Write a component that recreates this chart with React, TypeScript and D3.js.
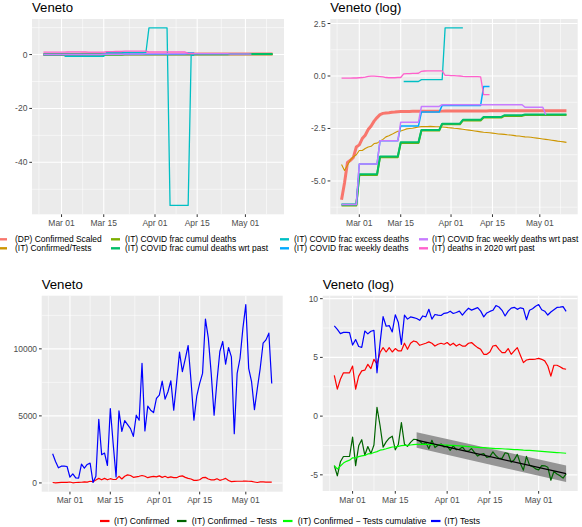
import React from "react";
import * as d3 from "d3";

// ---------------- data ----------------
const seriesStart = "2020-02-24";
const seriesEnd = "2020-05-10";

// top panels (values, log panel shows their natural log)
const dpConfirmedScaled = [
  0.00274, 0.0061, 0.0162, 0.018, 0.0207, 0.034, 0.0376, 0.0508, 0.0596, 0.078, 0.0926,
  0.1165, 0.138, 0.1588, 0.1686, 0.172, 0.1738, 0.1773, 0.1791, 0.1827, 0.1845,
  0.1848, 0.185, 0.1853, 0.1855, 0.1857, 0.186,
  0.1862, 0.1864, 0.1866, 0.1868, 0.187, 0.1872, 0.1874, 0.1876, 0.1878, 0.188,
  0.1881, 0.1882, 0.1884, 0.1885, 0.1887, 0.1888, 0.189, 0.1891, 0.1893, 0.1894,
  0.1895, 0.1896, 0.1898, 0.1899, 0.19, 0.1901, 0.1902, 0.1903, 0.1904, 0.1905,
  0.1906, 0.1907, 0.1908, 0.1909, 0.191, 0.1911, 0.1912, 0.1913, 0.1913, 0.1914,
  0.1915, 0.1915, 0.1916, 0.1917, 0.1917, 0.1918, 0.1918, 0.1919, 0.1919, 0.192,
];
const itConfirmedOverTests = [
  0.0147, 0.0111, 0.0143, 0.0183, 0.0213, 0.0235,
  0.0287, 0.0287, 0.0317, 0.034, 0.0351, 0.04, 0.0408, 0.045, 0.0488, 0.055,
  0.0578, 0.062, 0.0672, 0.0721, 0.0728, 0.0765, 0.0805, 0.0821, 0.0829, 0.0854,
  0.088, 0.0898, 0.0898, 0.0898, 0.0907, 0.0898, 0.0889, 0.0889, 0.088, 0.0872,
  0.0854, 0.0846, 0.0829, 0.0821, 0.0805, 0.0789, 0.0773, 0.0758, 0.0743, 0.0728,
  0.0714, 0.0699, 0.0686, 0.0679, 0.0672, 0.0659, 0.0646, 0.0633, 0.0627, 0.062,
  0.0608, 0.0602, 0.059, 0.0578, 0.0573, 0.0561, 0.055, 0.0545, 0.0539, 0.0529,
  0.0518, 0.0508, 0.0498, 0.0488, 0.0478, 0.0469, 0.046, 0.045, 0.0442, 0.0433, 0.0424,
];
const itFracCumulDeaths = [
  0.0021, 0.0021, 0.0021, 0.0021, 0.0021, 0.0021,
  0.009, 0.009, 0.009, 0.009, 0.009, 0.009, 0.009,
  0.0209, 0.0209, 0.0209, 0.0209, 0.0209, 0.0209, 0.0209,
  0.0411, 0.0411, 0.0411, 0.0411, 0.0411, 0.0411, 0.0411,
  0.0742, 0.0742, 0.0742, 0.0742, 0.0742, 0.0742, 0.0742,
  0.1002, 0.1002, 0.1002, 0.1002, 0.1002, 0.1002, 0.1002,
  0.12, 0.12, 0.12, 0.12, 0.12, 0.12, 0.12,
  0.138, 0.138, 0.138, 0.138, 0.138, 0.138, 0.138,
  0.1495, 0.1495, 0.1495, 0.1495, 0.1495, 0.1495, 0.1495,
  0.1556, 0.1556, 0.1556, 0.1556, 0.1556, 0.1556, 0.1556, 0.1556,
  0.1556, 0.1556, 0.1556, 0.1556, 0.1556, 0.1556, 0.1556,
];
const itFracCumulDeathsWrtPast = [
  0.0022, 0.0022, 0.0022, 0.0022, 0.0022, 0.0022,
  0.0093, 0.0093, 0.0093, 0.0093, 0.0093, 0.0093, 0.0093,
  0.0215, 0.0215, 0.0215, 0.0215, 0.0215, 0.0215, 0.0215,
  0.0424, 0.0424, 0.0424, 0.0424, 0.0424, 0.0424, 0.0424,
  0.0765, 0.0765, 0.0765, 0.0765, 0.0765, 0.0765, 0.0765,
  0.1033, 0.1033, 0.1033, 0.1033, 0.1033, 0.1033, 0.1033,
  0.1237, 0.1237, 0.1237, 0.1237, 0.1237, 0.1237, 0.1237,
  0.1423, 0.1423, 0.1423, 0.1423, 0.1423, 0.1423, 0.1423,
  0.1541, 0.1541, 0.1541, 0.1541, 0.1541, 0.1541, 0.1541,
  0.1604, 0.1604, 0.1604, 0.1604, 0.1604, 0.1604, 0.1604, 0.1604,
  0.1604, 0.1604, 0.1604, 0.1604, 0.1604, 0.1604, 0.1604,
];
const excessStart = "2020-03-02";
const itFracExcessDeaths = [
  -0.65, -0.65, -0.65, -0.65, -0.65, -0.65, -0.65, -0.65, -0.65, -0.65, -0.65, -0.65, -0.65, -0.65,
  0.77, 0.77, 0.77, 0.77, 0.77, 0.77,
  0.84, 0.84, 0.84, 0.84, 0.84, 0.84, 0.84, 0.84,
  9.9, 9.9, 9.9, 9.9, 9.9, 9.9, 9.9,
  -56, -56, -56, -56, -56, -56, -56,
  -0.3, -0.3,
];
const itFracWeeklyDeaths = [
  0.0022, 0.0022, 0.0022, 0.0022, 0.0022, 0.0022,
  0.0151, 0.0151, 0.0151, 0.0151, 0.0151, 0.0151, 0.0151,
  0.0455, 0.0455, 0.0455, 0.0455, 0.0455, 0.0455, 0.0455,
  0.0926, 0.0926, 0.0926, 0.0926, 0.0926, 0.0926, 0.0926,
  0.179, 0.179, 0.179, 0.179, 0.179, 0.179, 0.179,
  0.2466, 0.2466, 0.2466, 0.2466, 0.2466, 0.2466, 0.2466,
  0.2466, 0.2466, 0.2466, 0.2466, 0.2466, 0.2466, 0.2466,
  0.6065, 0.6065, 0.6065,
];
const itFracWeeklyDeathsWrtPast = [
  0.0022, 0.0022, 0.0022, 0.0022, 0.0022, 0.0022,
  0.0151, 0.0151, 0.0151, 0.0151, 0.0151, 0.0151, 0.0151,
  0.0455, 0.0455, 0.0455, 0.0455, 0.0455, 0.0455, 0.0455,
  0.111, 0.111, 0.111, 0.111, 0.111, 0.111, 0.111,
  0.2346, 0.2346, 0.2346, 0.2346, 0.2346, 0.2346, 0.2346,
  0.2541, 0.2541, 0.2541, 0.2541, 0.2541, 0.2541, 0.2541,
  0.2541, 0.2541, 0.2541, 0.2541, 0.2541, 0.2541, 0.2541,
  0.2541, 0.2541, 0.2541, 0.2541, 0.2541, 0.2541, 0.2541,
  0.2541, 0.2541, 0.2541, 0.2541, 0.2541, 0.2541, 0.2541,
  0.2254, 0.2254, 0.2254, 0.2254, 0.2254, 0.2254, 0.2254,
  0.1572,
];
const itDeaths2020WrtPast = [
  0.9, 0.9, 0.9, 0.9, 0.91, 0.91,
  0.92, 0.93, 0.95,
  0.98, 0.99, 0.99, 0.98, 0.97, 0.96,
  0.93, 0.92, 0.92, 0.92, 0.93, 0.93,
  1.11, 1.12, 1.12, 1.13, 1.13, 1.14,
  1.25, 1.27, 1.28, 1.28, 1.28, 1.28, 1.28, 1.28,
  1.03, 1.03, 1.02, 1.02, 1.01, 1.0,
  0.98, 0.97, 0.97, 0.97, 0.97, 0.97, 0.96,
  0.41, 0.41, 0.41,
];

const topLabels = [
  "(DP) Confirmed Scaled",
  "(IT) Confirmed/Tests",
  "(IT) COVID frac cumul deaths",
  "(IT) COVID frac cumul deaths wrt past",
  "(IT) COVID frac excess deaths",
  "(IT) COVID frac weekly deaths",
  "(IT) COVID frac weekly deaths wrt past",
  "(IT) deaths in 2020 wrt past",
];
const topColors = ["#F8766D", "#CD9600", "#7CAE00", "#00BE67", "#00BFC4", "#00A9FF", "#C77CFF", "#FF61CC"];

// bottom panels
const itConfirmed = [
  32, 10, 23, 40, 40, 40,
  71, 10, 30, 47, 50, 82, 57, 126, 85, 224,
  340, 235, 340, 235, 315, 257, 260, 495, 295, 495,
  600, 555, 415, 455, 495, 555, 495, 390, 455, 495,
  455, 525, 415, 495, 390, 455, 390, 390, 495, 525,
  415, 340, 295, 193, 193, 235, 390, 415, 295, 224,
  224, 315, 193, 257, 340, 178, 95, 119, 126, 126,
  129, 137, 126, 110, 71, 30, 76, 76, 67, 57, 54,
];
const itTests = [
  2175, 1600, 1125, 1250, 1250, 1225,
  425, 675, 375, 350, 1400, 1100, 1375, 1475, 40, 500,
  4750, 2100, 2225, 1300, 5550, 2900, 450, 5375, 3850, 4650,
  4350, 4050, 3475, 5050, 4675, 8925, 3875, 5725, 5425, 5250,
  6300, 6550, 7600, 6250, 6800, 7620, 5420, 7500, 9750, 8300,
  9250, 10250, 7600, 4680, 6500, 7420, 8170, 12220, 10800, 8170,
  5050, 7600, 9800, 10550, 8850, 10100, 9400, 3670, 8170, 9300,
  11550, 13300, 8550, 7550, 5470, 7050, 8550, 10420, 10670, 11170, 7420,
];
const itConfirmedMinusTests = [
  -4.21, -5.08, -3.89, -3.44, -3.44, -3.42,
  -1.79, -4.21, -2.53, -2.01, -3.33, -2.59, -3.19, -2.46, 0.75, -0.8,
  -2.64, -2.19, -1.88, -1.71, -2.87, -2.42, -0.55, -2.39, -2.57, -2.24,
  -1.98, -1.99, -2.12, -2.41, -2.25, -2.78, -2.06, -2.68, -2.48, -2.37,
  -2.63, -2.53, -2.91, -2.54, -2.85, -2.82, -2.63, -2.95, -2.98, -2.76,
  -3.1, -3.4, -3.25, -3.19, -3.52, -3.45, -3.04, -3.38, -3.6, -3.6,
  -3.12, -3.19, -3.93, -3.71, -3.26, -4.04, -4.6, -3.43, -4.17, -4.3,
  -4.49, -4.58, -4.21, -4.23, -4.35, -5.46, -4.72, -4.92, -5.08, -5.28, -4.92,
];
const fitDates = ["2020-03-22", "2020-05-10"];
const fitValues = [-2.05, -4.9];
const fitUpper = [-1.37, -4.2];
const fitLower = [-2.7, -5.62];

const bottomLabels = ["(IT) Confirmed", "(IT) Confirmed − Tests", "(IT) Confirmed − Tests cumulative", "(IT) Tests"];
const bottomColors = ["#FF0000", "#006400", "#00FF00", "#0000FF"];

const xTickDates = ["2020-03-01", "2020-03-15", "2020-04-01", "2020-04-15", "2020-05-01"];
const xTickLabels = ["Mar 01", "Mar 15", "Apr 01", "Apr 15", "May 01"];
const xBreakOuter = ["2020-02-15", "2020-05-15"];

const tlYTicks = [0, -20, -40];
const tlYLabels = ["0", "-20", "-40"];
const trYTicks = [2.5, 0, -2.5, -5];
const trYLabels = ["2.5", "0.0", "-2.5", "-5.0"];
const blYTicks = [0, 5000, 10000];
const blYLabels = ["0", "5000", "10000"];
const brYTicks = [-5, 0, 5, 10];
const brYLabels = ["-5", "0", "5", "10"];

// ---------------- helpers ----------------
const FONT = "'Liberation Sans', Arial, Helvetica, sans-serif";
const DAY = 86400000;
const parse = (s: string) => {
  const [y, m, d] = s.split("-").map(Number);
  return new Date(Date.UTC(y, m - 1, d));
};
type Pt = { date: Date; value: number };
const toPts = (start: string, vals: number[], f: (v: number) => number = (v) => v): Pt[] => {
  const s = parse(start).getTime();
  return vals.map((v, i) => ({ date: new Date(s + i * DAY), value: f(v) }));
};
const expand = (vals: number[]): [number, number] => {
  const fin = vals.filter((v) => Number.isFinite(v));
  const mn = d3.min(fin) as number;
  const mx = d3.max(fin) as number;
  const p = (mx - mn) * 0.05;
  return [mn - p, mx + p];
};
const xStart = parse(seriesStart);
const xEnd = parse(seriesEnd);
const xPad = (xEnd.getTime() - xStart.getTime()) * 0.05;
const xDomain: [Date, Date] = [new Date(xStart.getTime() - xPad), new Date(xEnd.getTime() + xPad)];
const majorBreaks = [xBreakOuter[0], ...xTickDates, xBreakOuter[1]].map(parse);
const minorBreaks = majorBreaks.slice(1).map((d, i) => new Date((d.getTime() + majorBreaks[i].getTime()) / 2));

type Line = { pts: Pt[]; color: string; width: number };
type Box = { l: number; r: number; t: number; b: number };

function Panel(props: {
  id: string;
  box: Box;
  yDomain: [number, number];
  yTicks: number[];
  yLabels: string[];
  title: string;
  titleY: number;
  lines: Line[];
  ribbon?: { date: Date; lo: number; hi: number }[];
}) {
  const { id, box, yDomain, yTicks, yLabels, title, titleY, lines, ribbon } = props;
  const x = d3.scaleUtc().domain(xDomain).range([box.l, box.r]);
  const y = d3.scaleLinear().domain(yDomain).range([box.b, box.t]);
  const step = yTicks.length > 1 ? Math.abs(yTicks[1] - yTicks[0]) : 1;
  const sorted = [...yTicks].sort((a, b) => a - b);
  const yMinor: number[] = [];
  for (let v = sorted[0] - step / 2; v <= yDomain[1]; v += step) {
    if (v >= yDomain[0]) yMinor.push(v);
  }
  for (let v = sorted[0] - step / 2; v >= yDomain[0]; v -= step) {
    if (!yMinor.includes(v)) yMinor.push(v);
  }
  const line = d3
    .line<Pt>()
    .defined((d) => Number.isFinite(d.value))
    .x((d) => x(d.date))
    .y((d) => y(d.value));
  const area = d3
    .area<{ date: Date; lo: number; hi: number }>()
    .x((d) => x(d.date))
    .y0((d) => y(d.lo))
    .y1((d) => y(d.hi));
  const tickDates = xTickDates.map(parse);
  return (
    <g>
      <text x={box.l} y={titleY} fontSize={13.2} fill="#000" fontFamily={FONT}>
        {title}
      </text>
      <rect x={box.l} y={box.t} width={box.r - box.l} height={box.b - box.t} fill="#EBEBEB" />
      <clipPath id={id}>
        <rect x={box.l} y={box.t} width={box.r - box.l} height={box.b - box.t} />
      </clipPath>
      <g clipPath={`url(#${id})`}>
        {yMinor.map((v, i) => (
          <line key={"ym" + i} x1={box.l} x2={box.r} y1={y(v)} y2={y(v)} stroke="#fff" strokeWidth={0.55} />
        ))}
        {minorBreaks.map((d, i) => (
          <line key={"xm" + i} x1={x(d)} x2={x(d)} y1={box.t} y2={box.b} stroke="#fff" strokeWidth={0.55} />
        ))}
        {yTicks.map((v, i) => (
          <line key={"yM" + i} x1={box.l} x2={box.r} y1={y(v)} y2={y(v)} stroke="#fff" strokeWidth={1.1} />
        ))}
        {tickDates.map((d, i) => (
          <line key={"xM" + i} x1={x(d)} x2={x(d)} y1={box.t} y2={box.b} stroke="#fff" strokeWidth={1.1} />
        ))}
        {ribbon && <path d={area(ribbon) || ""} fill="#959595" />}
        {lines.map((ln, i) => (
          <path key={"l" + i} d={line(ln.pts) || ""} fill="none" stroke={ln.color} strokeWidth={ln.width} strokeLinejoin="round" />
        ))}
      </g>
      {yTicks.map((v, i) => (
        <g key={"yt" + i}>
          <line x1={box.l - 2.7} x2={box.l} y1={y(v)} y2={y(v)} stroke="#333" strokeWidth={1} />
          <text x={box.l - 4.6} y={y(v) + 3} textAnchor="end" fontSize={8.5} fill="#4D4D4D" fontFamily={FONT}>
            {yLabels[i]}
          </text>
        </g>
      ))}
      {tickDates.map((d, i) => (
        <g key={"xt" + i}>
          <line x1={x(d)} x2={x(d)} y1={box.b} y2={box.b + 2.7} stroke="#333" strokeWidth={1} />
          <text x={x(d)} y={box.b + 11.6} textAnchor="middle" fontSize={8.5} fill="#4D4D4D" fontFamily={FONT}>
            {xTickLabels[i]}
          </text>
        </g>
      ))}
    </g>
  );
}

export default function App() {
  const topVals = [
    dpConfirmedScaled,
    itConfirmedOverTests,
    itFracCumulDeaths,
    itFracCumulDeathsWrtPast,
    itFracExcessDeaths,
    itFracWeeklyDeaths,
    itFracWeeklyDeathsWrtPast,
    itDeaths2020WrtPast,
  ];
  const topStarts = [seriesStart, seriesStart, seriesStart, seriesStart, excessStart, seriesStart, seriesStart, seriesStart];
  const topWidths = [3, 1.1, 2, 2, 1.3, 1.5, 1.5, 1.3];

  const tlLines: Line[] = topVals.map((v, i) => ({ pts: toPts(topStarts[i], v), color: topColors[i], width: topWidths[i] }));
  const trLines: Line[] = topVals.map((v, i) => ({ pts: toPts(topStarts[i], v, Math.log), color: topColors[i], width: topWidths[i] }));
  const tlDomain = expand(topVals.flat());
  const trDomain = expand(topVals.flat().map(Math.log));

  const blLines: Line[] = [
    { pts: toPts(seriesStart, itConfirmed), color: bottomColors[0], width: 1.2 },
    { pts: toPts(seriesStart, itTests), color: bottomColors[3], width: 1.2 },
  ];
  const blDomain = expand([...itConfirmed, ...itTests]);

  const ribbon = fitDates.map((d, i) => ({ date: parse(d), lo: fitLower[i], hi: fitUpper[i] }));
  const brLines: Line[] = [
    { pts: toPts(seriesStart, itConfirmed, Math.log), color: bottomColors[0], width: 1.2 },
    { pts: toPts(seriesStart, itConfirmedMinusTests), color: bottomColors[1], width: 1.2 },
    { pts: toPts(seriesStart, itConfirmedOverTests, Math.log), color: bottomColors[2], width: 1.2 },
    { pts: toPts(seriesStart, itTests, Math.log), color: bottomColors[3], width: 1.2 },
    { pts: fitDates.map((d, i) => ({ date: parse(d), value: fitValues[i] })), color: "#000", width: 1.2 },
  ];
  const brDomain = expand([
    ...itConfirmed.map(Math.log),
    ...itTests.map(Math.log),
    ...itConfirmedMinusTests,
    ...itConfirmedOverTests.map(Math.log),
    ...fitUpper,
    ...fitLower,
  ]);

  const topKeyX = [-2, 111, 280, 419];
  const topTextX = [15, 125, 294, 432];
  const topRowY = [239.3, 248.3];
  const botKeyX = [100, 177, 283, 431];
  const botTextX = [114, 191.7, 297.7, 444.3];
  const botY = 521;

  return (
    <svg width={582} height={527} style={{ position: "absolute", left: 0, top: 0, background: "#fff" }}>
      <rect x={0} y={0} width={582} height={527} fill="#fff" />
      <Panel id="c1" box={{ l: 32, r: 284, t: 19, b: 214.3 }} yDomain={tlDomain} yTicks={tlYTicks} yLabels={tlYLabels}
        title="Veneto" titleY={12} lines={tlLines} />
      <Panel id="c2" box={{ l: 330.3, r: 577.7, t: 19, b: 214.3 }} yDomain={trDomain} yTicks={trYTicks} yLabels={trYLabels}
        title="Veneto (log)" titleY={12} lines={trLines} />
      <Panel id="c3" box={{ l: 41.7, r: 282.7, t: 295.7, b: 491.7 }} yDomain={blDomain} yTicks={blYTicks} yLabels={blYLabels}
        title="Veneto" titleY={289} lines={blLines} />
      <Panel id="c4" box={{ l: 322.7, r: 577.7, t: 295.7, b: 491 }} yDomain={brDomain} yTicks={brYTicks} yLabels={brYLabels}
        title="Veneto (log)" titleY={289} lines={brLines} ribbon={ribbon} />

      {topLabels.map((lab, i) => {
        const c = Math.floor(i / 2);
        const r = i % 2;
        const yy = topRowY[r];
        return (
          <g key={"tl" + i}>
            <line x1={topKeyX[c]} x2={topKeyX[c] + 9} y1={yy} y2={yy} stroke={topColors[i]} strokeWidth={2.4} />
            <text x={topTextX[c]} y={yy + 3.1} fontSize={8.45} fill="#000" fontFamily={FONT}>
              {lab}
            </text>
          </g>
        );
      })}
      {bottomLabels.map((lab, i) => (
        <g key={"bl" + i}>
          <line x1={botKeyX[i]} x2={botKeyX[i] + 9.5} y1={botY} y2={botY} stroke={bottomColors[i]} strokeWidth={2.2} />
          <text x={botTextX[i]} y={botY + 3.1} fontSize={8.6} fill="#000" fontFamily={FONT}>
            {lab}
          </text>
        </g>
      ))}
    </svg>
  );
}
